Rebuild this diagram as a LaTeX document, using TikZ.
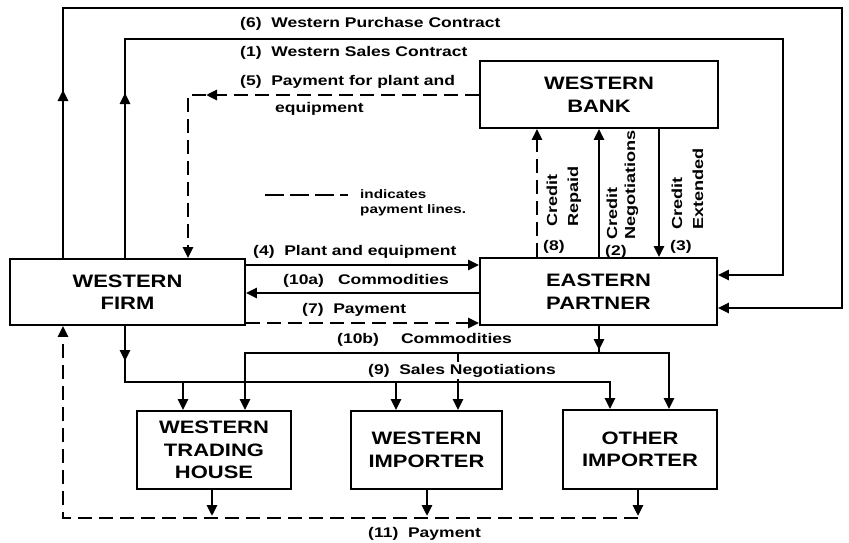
\documentclass[tikz,border=0pt]{standalone}
\usepackage{fontspec}
\setmainfont{Liberation Sans}
\newfontfamily\boxfont[FakeStretch=1.22]{Liberation Sans}
\newfontfamily\labfont[FakeStretch=1.25]{Liberation Sans}
\usetikzlibrary{arrows.meta}
\tikzset{
  box/.style={draw, line width=1.9pt, align=center, inner sep=0pt,
    font=\boxfont\bfseries\fontsize{18}{22.5}\selectfont},
  lab/.style={anchor=base west, inner sep=0pt, font=\labfont\bfseries\fontsize{14}{16}\selectfont},
  rlab/.style={anchor=base west, inner sep=0pt, rotate=90, font=\labfont\bfseries\fontsize{14.5}{16}\selectfont},
  leg/.style={anchor=base west, inner sep=0pt, font=\labfont\bfseries\fontsize{12.2}{14}\selectfont},
  conn/.style={line width=2.7pt},
  pay/.style={line width=2.7pt, dash pattern=on 14pt off 7pt},
  tip/.style={-{Triangle[width=10pt,length=11pt]}}
}
\begin{document}
\begin{tikzpicture}[x=1pt,y=-1pt]
\useasboundingbox (0,0) rectangle (849,543);
% boxes
\node[box, minimum width=235pt, minimum height=66pt] (WF) at (127.5,292) {WESTERN\\FIRM};
\node[box, minimum width=237pt, minimum height=67pt] (EP) at (598.5,291.5) {EASTERN\\PARTNER};
\node[box, minimum width=238pt, minimum height=67pt] (WB) at (599,94.5) {WESTERN\\BANK};
\node[box, minimum width=154pt, minimum height=78pt] (WTH) at (214,450) {WESTERN\\TRADING\\HOUSE};
\node[box, minimum width=151pt, minimum height=78pt] (WI) at (426.5,450) {WESTERN\\IMPORTER};
\node[box, minimum width=154pt, minimum height=79pt] (OI) at (640,449.5) {OTHER\\IMPORTER};
% helper coordinates (x positions)
\coordinate (x63) at (63,0);
\coordinate (x125) at (125,0);
\coordinate (x183) at (183,0);
\coordinate (x188) at (188,0);
\coordinate (x212) at (212,0);
\coordinate (x245) at (245,0);
\coordinate (x396) at (396,0);
\coordinate (x427) at (427,0);
\coordinate (x458) at (458,0);
\coordinate (x537) at (537,0);
\coordinate (x599) at (599,0);
\coordinate (x610) at (610,0);
\coordinate (x638) at (638,0);
\coordinate (x659) at (659,0);
\coordinate (x669) at (669,0);
% y positions
\coordinate (y95) at (0,95);
\coordinate (y265) at (0,265);
\coordinate (y275) at (0,275);
\coordinate (y293) at (0,293);
\coordinate (y308) at (0,308);
\coordinate (y323) at (0,323);
% bends
\coordinate (c6a) at (63,8);
\coordinate (c6b) at (842,8);
\coordinate (c6c) at (842,308);
\coordinate (c1a) at (125,39);
\coordinate (c1b) at (783,39);
\coordinate (c1c) at (783,275);
\coordinate (c5) at (188,95);
\coordinate (b10) at (599,353);
\coordinate (b10l) at (245,353);
\coordinate (b10m) at (458,353);
\coordinate (b10r) at (669,353);
\coordinate (b9) at (125,382);
\coordinate (b9a) at (183,382);
\coordinate (b9b) at (396,382);
\coordinate (b9r) at (610,382);
\coordinate (p11r) at (638,518);
\coordinate (p11l) at (63,518);
\coordinate (p11a) at (212,516);
\coordinate (p11b) at (427,516);
\coordinate (p11c) at (638,516);
% (6) Western Purchase Contract
\draw[conn,tip] (WF.north -| x63) -- (c6a) -- (c6b) -- (c6c) -- (EP.east |- c6c);
\draw[conn,tip] (63,125) -- (63,90);
% (1) Western Sales Contract
\draw[conn,tip] (WF.north -| x125) -- (c1a) -- (c1b) -- (c1c) -- (EP.east |- c1c);
\draw[conn,tip] (125,128) -- (125,93);
% (5) Payment for plant and equipment
\draw[pay,tip] (WB.west |- y95) -- (c5) -- (WF.north -| x188);
\draw[conn,tip] (222,95) -- (206,95);
% (4), (10a), (7)
\draw[conn,tip] (WF.east |- y265) -- (EP.west |- y265);
\draw[conn,tip] (EP.west |- y293) -- (WF.east |- y293);
\draw[pay,tip] (WF.east |- y323) -- (EP.west |- y323);
% credit lines
\draw[pay,tip] (EP.north -| x537) -- (WB.south -| x537);
\draw[conn,tip] (EP.north -| x599) -- (WB.south -| x599);
\draw[conn,tip] (WB.south -| x659) -- (EP.north -| x659);
% (10b) Commodities
\draw[conn] (EP.south -| x599) -- (b10);
\draw[conn,tip] (EP.south -| x599) -- (599,350);
\draw[conn,tip] (b10) -- (b10r) -- (OI.north -| x669);
\draw[conn,tip] (b10) -- (b10l) -- (WTH.north -| x245);
\draw[conn,tip] (b10m) -- (WI.north -| x458);
% (9) Sales Negotiations
\draw[conn,tip] (WF.south -| x125) -- (b9) -- (b9r) -- (OI.north -| x610);
\draw[conn,tip] (125,330) -- (125,361);
\draw[conn,tip] (b9a) -- (WTH.north -| x183);
\draw[conn,tip] (b9b) -- (WI.north -| x396);
% (11) Payment
\draw[pay,tip] (p11r) -- (p11l) -- (WF.south -| x63);
\draw[conn,tip] (WTH.south -| x212) -- (p11a);
\draw[conn,tip] (WI.south -| x427) -- (p11b);
\draw[conn,tip] (OI.south -| x638) -- (p11c);
% legend
\coordinate (lg1) at (265,195);
\coordinate (lg2) at (348,195);
\draw[line width=2.7pt, dash pattern=on 19pt off 6pt] (lg1) -- (lg2);
\node[leg] (lga) at (360,198) {indicates};
\node[leg] (lgb) at (360,213) {payment lines.};
% labels
\node[lab] (l6) at (240,28) {(6)\ \ Western Purchase Contract};
\node[lab] (l1) at (240,57) {(1)\ \ Western Sales Contract};
\node[lab] (l5) at (240,85) {(5)\ \ Payment for plant and};
\node[lab] (l5b) at (275,112) {equipment};
\node[lab] (l4) at (253,255) {(4)\ \ Plant and equipment};
\node[lab] (l10a) at (283,284) {(10a)\hspace{14pt}Commodities};
\node[lab] (l7) at (302,313) {(7)\ \ Payment};
\node[lab] (l10b) at (337,343) {(10b)\hspace{22pt}Commodities};
\node[lab, fill=white, inner ysep=2pt] (l9) at (368,374) {(9)\ \ Sales Negotiations};
\node[lab] (l11) at (368,537) {(11)\ \ Payment};
% rotated credit labels
\node[rlab] (r8a) at (557,227) {Credit};
\node[rlab] (r8b) at (578,227) {Repaid};
\node[lab] (r8n) at (543,250) {(8)};
\node[rlab] (r2a) at (617,240) {Credit};
\node[rlab] (r2b) at (635,240) {Negotiations};
\node[lab] (r2n) at (605,255) {(2)};
\node[rlab] (r3a) at (682,230) {Credit};
\node[rlab] (r3b) at (703,230) {Extended};
\node[lab] (r3n) at (670,250) {(3)};
\end{tikzpicture}
\end{document}
